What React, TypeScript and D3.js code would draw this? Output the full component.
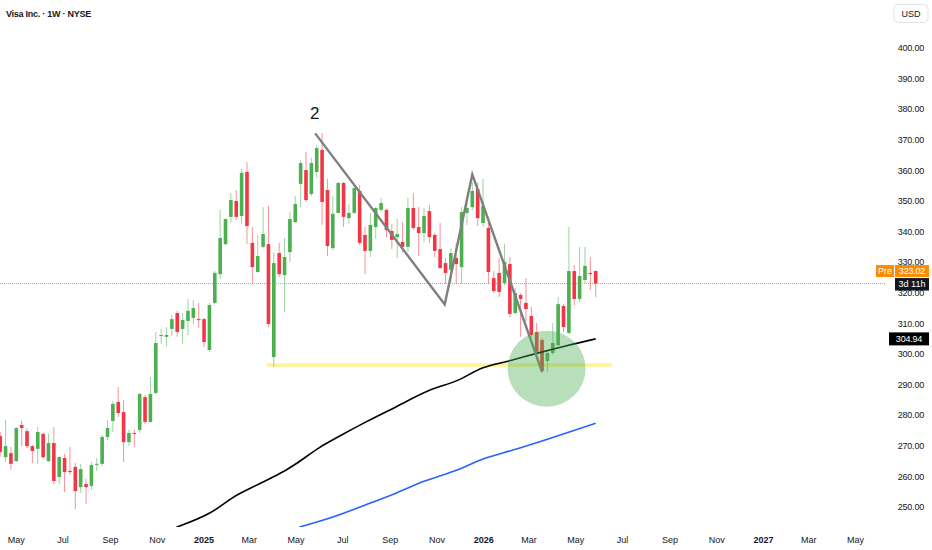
import React from 'react';
import * as d3 from 'd3';

const W = 932;
const H = 550;

// weekly candles, first week starting 2024-04-10
const START = new Date(2024, 3, 10);

const opens = [
  273.2, 266.3, 267.6, 265.0, 276.8, 274.8, 269.9, 269.0, 273.9, 265.0,
  270.9, 259.8, 266.0, 261.8, 263.1, 256.5, 257.5, 256.9, 263.9, 264.1,
  272.9, 278.1, 284.3, 281.0, 271.2, 274.2, 275.2, 285.9, 277.8, 287.3,
  305.9, 305.6, 308.2, 313.4, 308.2, 310.8, 311.8, 311.4, 311.4, 301.3,
  316.7, 326.1, 335.9, 344.8, 350.0, 345.1, 359.5, 336.3, 326.8, 335.0,
  335.9, 299.0, 333.0, 325.8, 333.3, 343.1, 355.6, 360.1, 352.3, 359.5,
  366.7, 353.6, 334.6, 346.1, 355.9, 344.4, 346.1, 353.3, 338.9, 333.7,
  341.5, 347.1, 347.1, 340.2, 338.2, 336.6, 335.0, 347.7, 341.5, 339.5,
  346.7, 338.9, 334.3, 329.7, 327.5, 331.4, 328.4, 346.1, 348.0, 353.9,
  342.8, 341.2, 324.8, 326.5, 323.2, 329.4, 313.4, 319.3, 316.7, 312.4,
  307.2, 304.6, 297.7, 300.3, 302.9, 315.7, 306.9, 327.1, 318.0, 324.2,
  326.5, 327.1,
];
const highs = [
  274.5, 278.4, 269.6, 276.1, 278.1, 275.8, 270.3, 276.1, 274.2, 273.9,
  276.1, 266.6, 267.3, 269.6, 264.4, 264.1, 259.2, 264.7, 266.0, 273.5,
  278.4, 284.6, 289.2, 285.0, 275.2, 275.2, 287.3, 286.6, 292.5, 307.2,
  308.2, 308.8, 312.7, 314.1, 313.4, 318.0, 317.6, 316.7, 311.8, 316.7,
  327.1, 347.1, 344.4, 352.6, 353.6, 360.5, 362.7, 341.5, 338.9, 348.0,
  348.4, 333.3, 336.3, 337.9, 346.4, 351.6, 363.4, 366.0, 364.1, 368.3,
  372.2, 357.2, 351.6, 356.2, 356.2, 349.0, 354.6, 355.2, 341.5, 346.1,
  348.0, 351.0, 347.4, 342.5, 344.1, 343.1, 351.0, 352.6, 348.0, 347.7,
  348.7, 339.5, 342.8, 331.4, 334.6, 336.3, 348.0, 351.0, 356.2, 355.9,
  357.2, 344.8, 327.1, 331.4, 335.9, 331.7, 321.6, 319.9, 324.8, 315.4,
  310.1, 305.2, 301.0, 310.1, 318.6, 316.3, 341.5, 329.1, 335.0, 335.0,
  331.7, 327.4,
];
const lows = [
  266.5, 264.7, 262.1, 264.7, 269.9, 269.3, 264.4, 264.1, 265.7, 264.7,
  257.5, 257.5, 254.9, 260.5, 249.3, 254.6, 251.0, 255.6, 261.8, 263.4,
  271.9, 274.5, 279.4, 264.7, 269.9, 269.6, 274.2, 277.1, 277.5, 286.9,
  303.3, 302.6, 305.9, 305.6, 303.3, 306.2, 309.8, 308.5, 302.3, 300.7,
  316.3, 324.5, 335.6, 342.8, 343.8, 342.5, 336.0, 323.2, 326.5, 334.6,
  308.8, 295.8, 325.2, 313.7, 330.1, 342.8, 348.0, 349.7, 351.6, 357.5,
  342.2, 332.0, 334.0, 346.1, 341.5, 342.5, 345.8, 335.6, 326.1, 331.7,
  337.6, 346.4, 338.2, 334.3, 331.4, 333.3, 333.3, 340.5, 332.0, 336.6,
  336.3, 331.7, 327.8, 322.9, 323.2, 322.9, 322.9, 342.2, 347.1, 341.8,
  341.5, 322.9, 319.9, 318.6, 322.5, 312.1, 313.0, 305.6, 310.5, 305.6,
  299.7, 293.8, 294.1, 299.7, 302.6, 307.2, 306.5, 316.0, 317.0, 323.2,
  320.9, 318.6,
];
const closes = [
  268.0, 269.9, 264.1, 275.8, 275.8, 269.9, 268.3, 274.5, 266.3, 270.9,
  258.5, 266.3, 261.4, 261.4, 255.2, 262.4, 256.5, 263.7, 264.1, 272.9,
  275.8, 283.7, 280.7, 271.2, 274.2, 274.0, 286.9, 277.8, 286.9, 303.6,
  306.2, 306.2, 311.4, 307.2, 311.1, 314.1, 315.0, 311.1, 303.9, 316.0,
  326.5, 337.9, 344.1, 350.3, 344.8, 359.2, 341.8, 328.4, 332.0, 339.2,
  309.8, 329.7, 326.1, 331.7, 344.1, 349.0, 362.4, 350.3, 362.4, 367.3,
  349.7, 335.3, 345.8, 355.9, 344.8, 346.1, 354.2, 336.3, 333.7, 342.2,
  347.7, 349.3, 340.5, 337.3, 339.2, 335.0, 347.7, 341.2, 339.5, 345.1,
  338.2, 333.7, 328.1, 326.5, 333.0, 329.4, 346.4, 347.7, 353.3, 344.4,
  348.4, 326.8, 320.6, 320.3, 330.1, 313.1, 319.9, 318.0, 314.7, 306.2,
  300.7, 294.4, 300.3, 303.6, 316.3, 308.8, 327.1, 318.0, 325.5, 328.8,
  326.1, 323.02,
];

// moving averages
const blackMaDates = [
  '2024-11-26', '2025-01-09', '2025-02-13', '2025-03-15', '2025-04-14', '2025-05-02',
  '2025-06-01', '2025-06-27', '2025-08-01', '2025-09-05', '2025-10-23', '2025-11-27',
  '2025-12-31', '2026-02-04', '2026-03-11', '2026-04-19', '2026-05-27',
];
const blackMaValues = [
  243.4, 248.1, 253.9, 257.7, 261.5, 264.3, 269.5, 273.2, 277.9, 282.3, 288.2, 291.3,
  295.5, 297.8, 300.2, 302.7, 304.94,
];
const blueMaDates = [
  '2025-05-05', '2025-06-19', '2025-08-05', '2025-09-05', '2025-10-14', '2025-11-27',
  '2025-12-31', '2026-02-08', '2026-03-28', '2026-05-27',
];
const blueMaValues = [243.4, 246.8, 251.2, 254.2, 258.3, 262.1, 265.7, 268.6, 272.4, 277.4];

// annotations
const zigDates = ['2025-05-26', '2025-11-11', '2025-12-17', '2026-03-18'];
const zigPrices = [372.1, 316.2, 358.7, 294.2];
const supportPrice = 296.4;
const supportDates = ['2025-03-24', '2026-06-17'];
const zoneDate = '2026-03-24';
const zonePrice = 295.2;

const lastPrice = 323.02;
const blackMaLast = 304.94;
const priceTicks = [250, 260, 270, 280, 290, 300, 310, 320, 330, 340, 350, 360, 370, 380, 390, 400];

const parse = (s: string) => {
  const [y, m, d] = s.split('-').map(Number);
  return new Date(y, m - 1, d);
};

const dates = opens.map((_, i) => d3.timeDay.offset(START, 7 * i));

const UP = '#4caf50';
const DOWN = '#f23645';
const TEXT = '#131722';
const FONT = '"Liberation Sans", Arial, sans-serif';

export default function App() {
  const x = d3.scaleTime().domain([START, dates[dates.length - 1]]).range([0.2, 595.7]);
  const y = d3.scaleLinear().domain([250, 400]).range([507, 48]);

  const plotW = 886;
  const plotH = 527;

  const monthTicks = d3.timeMonth.every(2)!.range(new Date(2024, 4, 1), new Date(2027, 5, 2));
  const monthFmt = d3.timeFormat('%b');

  const lineGen = d3
    .line<[Date, number]>()
    .x((d) => x(d[0]))
    .y((d) => y(d[1]));
  const smoothGen = d3
    .line<[Date, number]>()
    .x((d) => x(d[0]))
    .y((d) => y(d[1]))
    .curve(d3.curveMonotoneX);

  const blackPts: [Date, number][] = blackMaDates.map((d, i) => [parse(d), blackMaValues[i]]);
  const bluePts: [Date, number][] = blueMaDates.map((d, i) => [parse(d), blueMaValues[i]]);
  const zigPts: [Date, number][] = zigDates.map((d, i) => [parse(d), zigPrices[i]]);

  const bodyW = 3.6;
  const yLast = y(lastPrice);
  const yMa = y(blackMaLast);

  return (
    <div style={{ position: 'fixed', left: 0, top: 0, width: W, height: H, background: '#fff' }}>
      <svg width={W} height={H} style={{ display: 'block', fontFamily: FONT }}>
        <defs>
          <clipPath id="plot">
            <rect x={0} y={0} width={plotW} height={plotH} />
          </clipPath>
        </defs>
        <rect x={0} y={0} width={W} height={H} fill="#fff" />

        <g clipPath="url(#plot)">
          {/* support line */}
          <line
            x1={x(parse(supportDates[0]))}
            x2={x(parse(supportDates[1]))}
            y1={y(supportPrice)}
            y2={y(supportPrice)}
            stroke="#ffeb3b"
            strokeOpacity={0.55}
            strokeWidth={3.5}
          />
          {/* last price dotted line */}
          <line x1={0} x2={894} y1={yLast} y2={yLast} stroke="#2962ff" strokeOpacity={0.6} strokeWidth={1} strokeDasharray="1 3" />
          <line x1={2} x2={894} y1={yLast} y2={yLast} stroke="#f23645" strokeOpacity={0.5} strokeWidth={1} strokeDasharray="1 3" />

          {/* candles */}
          {dates.map((d, i) => {
            const up = closes[i] >= opens[i];
            const c = up ? UP : DOWN;
            const cx = x(d);
            const top = y(Math.max(opens[i], closes[i]));
            const bot = y(Math.min(opens[i], closes[i]));
            return (
              <g key={i}>
                <line x1={cx} x2={cx} y1={y(highs[i])} y2={y(lows[i])} stroke={c} strokeOpacity={0.55} strokeWidth={1} />
                <rect x={cx - bodyW / 2} y={top} width={bodyW} height={Math.max(1, bot - top)} fill={c} />
              </g>
            );
          })}

          {/* moving averages */}
          <path d={smoothGen(bluePts) || ''} fill="none" stroke="#2962ff" strokeWidth={1.6} />
          <path d={smoothGen(blackPts) || ''} fill="none" stroke="#000" strokeWidth={1.6} />

          {/* zigzag */}
          <path d={lineGen(zigPts) || ''} fill="none" stroke="#7f7f7f" strokeWidth={2.4} strokeLinejoin="miter" />

          {/* zone */}
          <ellipse cx={x(parse(zoneDate))} cy={y(zonePrice)} rx={39} ry={38} fill="#4caf50" fillOpacity={0.4} />

          <text x={x(zigPts[0][0]) - 0.5} y={y(zigPts[0][1]) - 14} fontSize={17} fill={TEXT} textAnchor="middle">
            2
          </text>
        </g>

        {/* title */}
        <text x={6} y={17} fontSize={9} fontWeight={600} fill={TEXT} letterSpacing={-0.25}>
          Visa Inc. · 1W · NYSE
        </text>

        {/* USD box */}
        <rect x={894} y={4.5} width={34} height={18} rx={4} fill="#fff" stroke="#e0e3eb" />
        <text x={911} y={17} fontSize={9} fill={TEXT} textAnchor="middle">
          USD
        </text>

        {/* price axis */}
        {priceTicks.map((t) => (
          <text key={t} x={924} y={y(t) + 3.2} fontSize={9} fill={TEXT} textAnchor="end" letterSpacing={-0.2}>
            {t.toFixed(2)}
          </text>
        ))}

        {/* time axis */}
        {monthTicks.map((t, i) => {
          const isYear = t.getMonth() === 0;
          return (
            <text
              key={i}
              x={x(t)}
              y={542.5}
              fontSize={9}
              fill={TEXT}
              textAnchor="middle"
              fontWeight={isYear ? 700 : 400}
            >
              {isYear ? String(t.getFullYear()) : monthFmt(t)}
            </text>
          );
        })}

        {/* price labels */}
        <rect x={876} y={yLast - 18.5} width={18} height={12} fill="#fb8c00" />
        <text x={885} y={yLast - 9.3} fontSize={9} fill="#fff" textAnchor="middle">
          Pre
        </text>
        <rect x={895} y={yLast - 18.5} width={34} height={12} fill="#fb8c00" />
        <text x={912} y={yLast - 9.3} fontSize={9} fill="#fff" textAnchor="middle" letterSpacing={-0.2}>
          {lastPrice.toFixed(2)}
        </text>
        <rect x={895} y={yLast - 5.5} width={34} height={12.5} fill="#131722" />
        <text x={912} y={yLast + 3.8} fontSize={9} fill="#fff" textAnchor="middle">
          3d 11h
        </text>
        <rect x={889} y={yMa - 6.5} width={40} height={13} fill="#000" />
        <text x={909} y={yMa + 3.2} fontSize={9} fill="#fff" textAnchor="middle" letterSpacing={-0.2}>
          {blackMaLast.toFixed(2)}
        </text>
      </svg>
    </div>
  );
}
